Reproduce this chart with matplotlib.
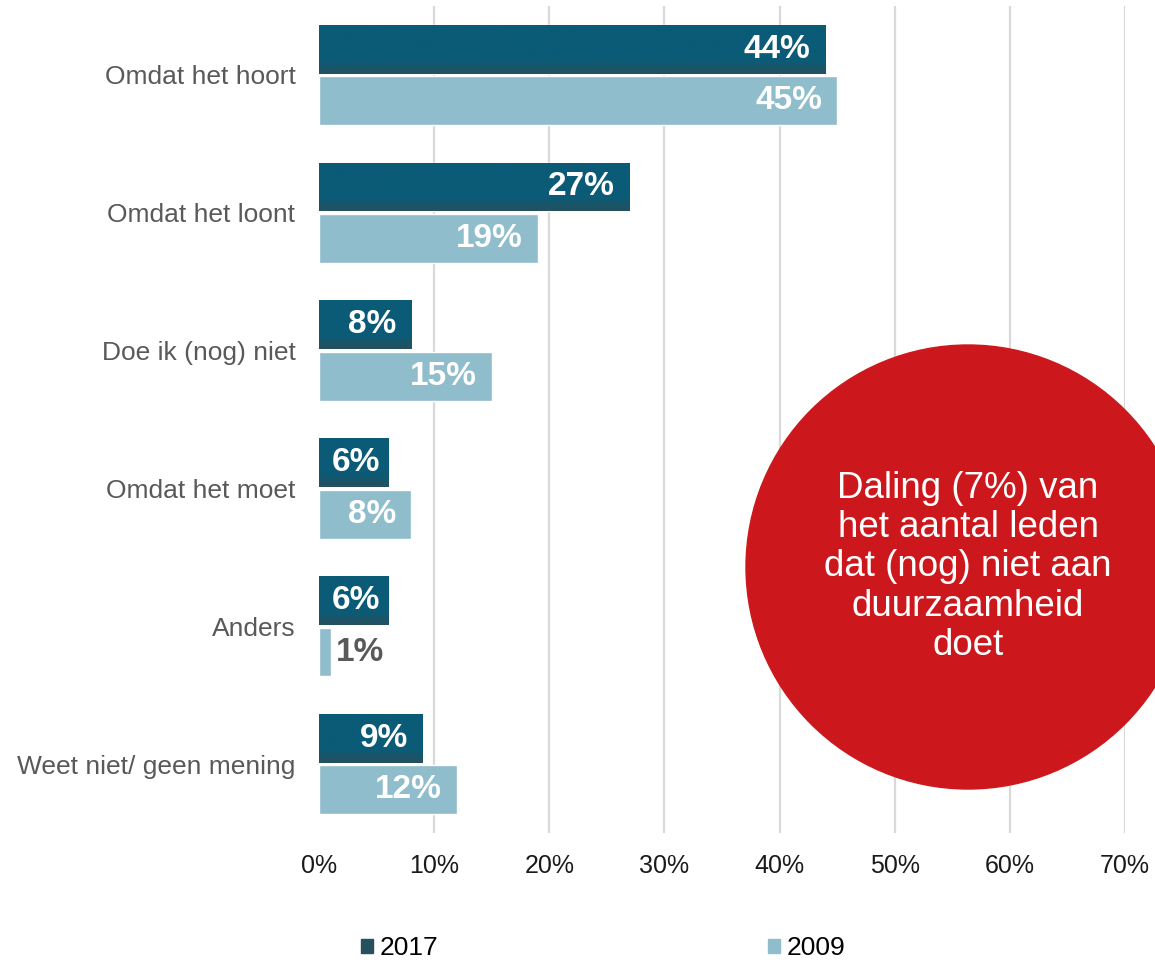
import numpy as np
import matplotlib
matplotlib.use("Agg")
import matplotlib.pyplot as plt
from matplotlib.patches import Ellipse, Patch
from matplotlib.colors import LinearSegmentedColormap

plt.rcParams['font.family'] = ['Liberation Sans', 'DejaVu Sans']

# survey answers, share of members per year
categories = ['Omdat het hoort', 'Omdat het loont', 'Doe ik (nog) niet',
              'Omdat het moet', 'Anders', 'Weet niet/ geen mening']
vals_2017 = [44, 27, 8, 6, 6, 9]
vals_2009 = [45, 19, 15, 8, 1, 12]
xticks = [0, 10, 20, 30, 40, 50, 60, 70]
note = 'Daling (7%) van\nhet aantal leden\ndat (nog) niet aan\nduurzaamheid\ndoet'

dark = '#0B5B77'
dark_bottom = '#26505E'
light = '#8FBDCB'
red = '#CC181C'

fig = plt.figure(figsize=(11.55, 9.6), dpi=100)
ax = fig.add_axes([319 / 1155, 1 - 833 / 960, 806 / 1155, 827 / 960])

y = np.arange(len(categories))
h = 0.355
off = 0.187

bars17 = ax.barh(y - off, vals_2017, height=h, color=dark, edgecolor='white', linewidth=1, zorder=3)
bars09 = ax.barh(y + off, vals_2009, height=h, color=light, edgecolor='white', linewidth=1, zorder=3)

# slight darkening toward the bottom edge of the 2017 bars
grad = np.concatenate([np.zeros(72), np.linspace(0, 1, 28)]).reshape(-1, 1)
cmap = LinearSegmentedColormap.from_list('bar17', [dark, dark_bottom])
for b in bars17:
    x0, y0 = b.get_x(), b.get_y()
    im = ax.imshow(grad, cmap=cmap, aspect='auto', zorder=3.5,
                   extent=[x0, x0 + b.get_width(), y0, y0 + b.get_height()],
                   origin='lower', interpolation='bilinear')
    im.set_clip_path(b)


def label(b, v):
    yc = b.get_y() + b.get_height() / 2
    if v >= 3:
        # inside end, but never closer to the axis than the label needs
        ax.text(max(v - 1.3, 5.3), yc, f'{v}%', ha='right', va='center',
                color='white', fontsize=24, fontweight='bold', zorder=5)
    else:
        ax.text(v + 0.5, yc, f'{v}%', ha='left', va='center',
                color='#595959', fontsize=24, fontweight='bold', zorder=5)


for b, v in zip(bars17, vals_2017):
    label(b, v)
for b, v in zip(bars09, vals_2009):
    label(b, v)

ax.set_xlim(0, 70)
ax.set_ylim(len(categories) - 0.5, -0.5)
ax.set_xticks(xticks)
ax.set_xticklabels([f'{t}%' for t in xticks])
ax.set_yticks(y)
ax.set_yticklabels(categories)
ax.tick_params(axis='x', length=0, labelsize=18, labelcolor='#1a1a1a', pad=15)
ax.tick_params(axis='y', length=0, labelsize=19, labelcolor='#595959', pad=17)
for s in ax.spines.values():
    s.set_visible(False)
ax.xaxis.grid(True, color='#D9D9D9', linewidth=1.6, zorder=0)
ax.set_axisbelow(True)
ax.get_xgridlines()[0].set_visible(False)

# callout circle
circ = Ellipse((968 / 1155, 1 - 567 / 960), 444 / 1155, 444 / 960,
               transform=fig.transFigure, color=red, zorder=10)
fig.patches.append(circ)
fig.text(968 / 1155, 1 - 567 / 960, note, ha='center', va='center', color='white',
         fontsize=26.5, linespacing=1.16, zorder=11)

handles = [Patch(color=dark_bottom, label='2017'), Patch(color=light, label='2009')]
fig.legend(handles=handles, loc='center', bbox_to_anchor=(603 / 1155, 1 - 948 / 960),
           ncol=2, frameon=False, fontsize=19, handlelength=0.45, handleheight=0.45,
           handletextpad=0.25, columnspacing=12.5)

fig.savefig('out.png', dpi=100)
